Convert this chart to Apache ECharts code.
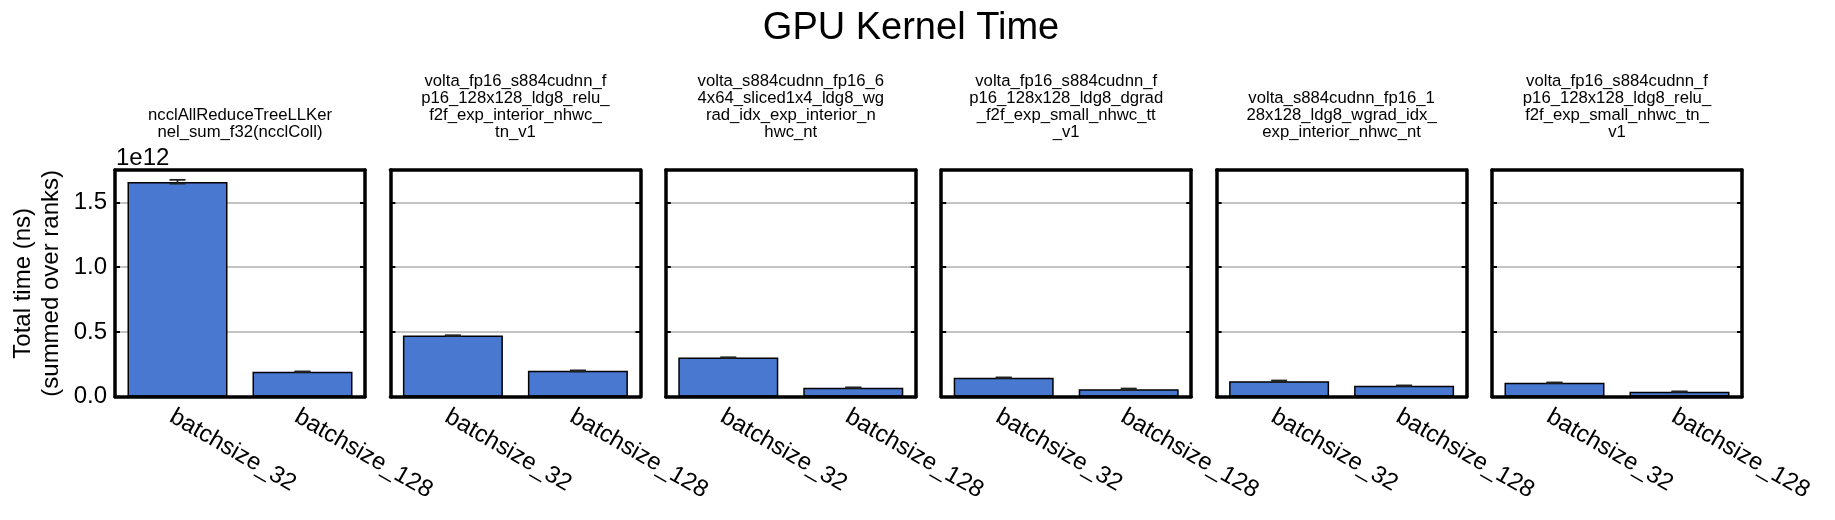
<!DOCTYPE html>
<html>
<head>
<meta charset="utf-8">
<script src="https://cdn.jsdelivr.net/npm/echarts@6/dist/echarts.min.js"></script>
<style>html,body{margin:0;padding:0;background:#fff}#c{width:1835px;height:520px}</style>
</head>
<body>
<div id="c"></div>
<script>
// ---- data ----
const categories = ['batchsize_32', 'batchsize_128'];
const kernels = [
  'ncclAllReduceTreeLLKer\nnel_sum_f32(ncclColl)',
  'volta_fp16_s884cudnn_f\np16_128x128_ldg8_relu_\nf2f_exp_interior_nhwc_\ntn_v1',
  'volta_s884cudnn_fp16_6\n4x64_sliced1x4_ldg8_wg\nrad_idx_exp_interior_n\nhwc_nt',
  'volta_fp16_s884cudnn_f\np16_128x128_ldg8_dgrad\n_f2f_exp_small_nhwc_tt\n_v1',
  'volta_s884cudnn_fp16_1\n28x128_ldg8_wgrad_idx_\nexp_interior_nhwc_nt',
  'volta_fp16_s884cudnn_f\np16_128x128_ldg8_relu_\nf2f_exp_small_nhwc_tn_\nv1'
];
// total time (ns), summed over ranks
const bs32 = [1.658e12, 0.472e12, 0.302e12, 0.147e12, 0.119e12, 0.108e12];
const bs128 = [0.193e12, 0.201e12, 0.070e12, 0.057e12, 0.085e12, 0.039e12];
// confidence interval bounds
const bs32Lo = [1.645e12, 0.470e12, 0.300e12, 0.145e12, 0.113e12, 0.106e12];
const bs32Hi = [1.674e12, 0.474e12, 0.304e12, 0.149e12, 0.125e12, 0.110e12];
const bs128Lo = [0.191e12, 0.195e12, 0.068e12, 0.051e12, 0.083e12, 0.037e12];
const bs128Hi = [0.195e12, 0.203e12, 0.072e12, 0.063e12, 0.087e12, 0.041e12];
const yTicks = [0, 0.5e12, 1.0e12, 1.5e12];
const yMax = 1.75e12;
const yStep = 0.5e12;
const title = 'GPU Kernel Time';
const yName = 'Total time (ns)\n(summed over ranks)';
const offsetText = '1e12';

// ---- layout ----
const FF = '"Liberation Sans", Arial, Helvetica, sans-serif';
const GL = 115, GSTEP = 275.4, GW = 250, GT = 170, GH = 226.7;
const SPINE = 3.5;
const tickStyle = {inside: true, length: 5, lineStyle: {color: '#000', width: 2}};
const lineStyle = {color: '#000', width: SPINE};

const grids = [], xAxes = [], yAxes = [], series = [], graphics = [];
kernels.forEach((k, i) => {
  const left = GL + GSTEP * i;
  grids.push({left: left, top: GT, width: GW, height: GH, containLabel: false});
  xAxes.push({
    type: 'category', gridIndex: i, data: categories, position: 'bottom', z: 5,
    axisLine: {onZero: false, lineStyle: lineStyle},
    axisTick: Object.assign({alignWithLabel: true}, tickStyle),
    axisLabel: {interval: 0, rotate: -30, align: 'left', verticalAlign: 'top', margin: 8,
      fontSize: 24, color: '#000', fontFamily: FF},
    splitLine: {show: false}
  });
  xAxes.push({
    type: 'category', gridIndex: i, data: categories, position: 'top', z: 5,
    axisLine: {onZero: false, lineStyle: lineStyle},
    axisTick: Object.assign({alignWithLabel: true}, tickStyle),
    axisLabel: {show: false}, splitLine: {show: false}
  });
  yAxes.push({
    type: 'value', gridIndex: i, min: 0, max: yMax, interval: yStep, position: 'left',
    axisLine: {show: true, onZero: false, lineStyle: lineStyle},
    axisTick: Object.assign({show: true}, tickStyle),
    axisLabel: {show: i === 0, margin: 8, fontSize: 24, color: '#000', fontFamily: FF,
      formatter: v => yTicks.some(t => Math.abs(t - v) < 1) ? (v / 1e12).toFixed(1) : ''},
    splitLine: {show: true, lineStyle: {color: '#b0b0b0', width: 1.5}},
    name: i === 0 ? yName : '', nameLocation: 'middle', nameGap: 50,
    nameTextStyle: {fontSize: 24, lineHeight: 28, color: '#000', fontFamily: FF}
  });
  yAxes.push({
    type: 'value', gridIndex: i, min: 0, max: yMax, interval: yStep, position: 'right', z: 5,
    axisLine: {show: true, onZero: false, lineStyle: lineStyle},
    axisTick: Object.assign({show: true}, tickStyle),
    axisLabel: {show: false}, splitLine: {show: false}
  });
  series.push({
    type: 'bar', xAxisIndex: 2 * i, yAxisIndex: 2 * i, barWidth: '80%',
    data: [bs32[i], bs128[i]],
    itemStyle: {color: '#4878cf', borderColor: '#000', borderWidth: 1.5},
    z: 2
  });
  series.push({
    type: 'custom', xAxisIndex: 2 * i, yAxisIndex: 2 * i, z: 6,
    data: [[0, bs32Lo[i], bs32Hi[i]], [1, bs128Lo[i], bs128Hi[i]]],
    encode: {x: 0, y: [1, 2]},
    renderItem: (params, api) => {
      const lo = api.coord([api.value(0), api.value(1)]);
      const hi = api.coord([api.value(0), api.value(2)]);
      const cw = 8;
      const st = {stroke: '#222', lineWidth: 1.8};
      return {type: 'group', children: [
        {type: 'line', shape: {x1: lo[0], y1: lo[1], x2: hi[0], y2: hi[1]}, style: st},
        {type: 'line', shape: {x1: lo[0] - cw, y1: lo[1], x2: lo[0] + cw, y2: lo[1]}, style: st},
        {type: 'line', shape: {x1: hi[0] - cw, y1: hi[1], x2: hi[0] + cw, y2: hi[1]}, style: st}
      ]};
    }
  });
  graphics.push({
    type: 'text', x: left + GW / 2, y: 141, z: 10,
    style: {text: k, fontSize: 16.7, lineHeight: 17, fontFamily: FF, fill: '#000',
      align: 'center', verticalAlign: 'bottom'}
  });
});
graphics.push({
  type: 'text', x: 911, y: 29, z: 10,
  style: {text: title, fontSize: 38, fontFamily: FF, fill: '#000', align: 'center', verticalAlign: 'middle'}
});
graphics.push({
  type: 'text', x: 116, y: 158, z: 10,
  style: {text: offsetText, fontSize: 24, fontFamily: FF, fill: '#000', align: 'left', verticalAlign: 'middle'}
});

const chart = echarts.init(document.getElementById('c'), null, {renderer: 'canvas'});
chart.setOption({
  animation: false,
  backgroundColor: '#fff',
  grid: grids, xAxis: xAxes, yAxis: yAxes, series: series, graphic: graphics
});
</script>
</body>
</html>
